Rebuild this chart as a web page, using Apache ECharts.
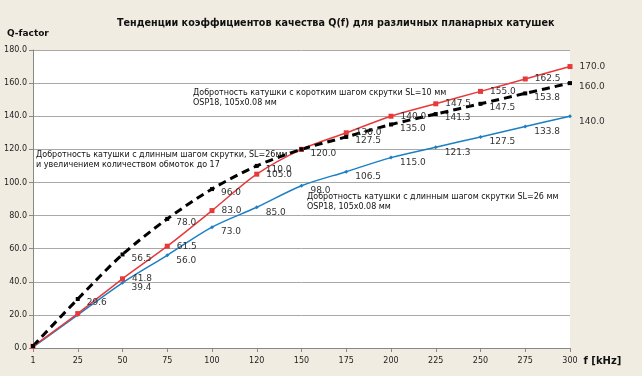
<!DOCTYPE html>
<html>
<head>
<meta charset="utf-8" />
<title>Q-factor</title>
<script src="https://cdn.jsdelivr.net/npm/echarts@6/dist/echarts.min.js"></script>
<style>
    *{margin:0;padding:0;}
    body{background:#f1ece1;}
    #main{width:642px;height:376px;}
</style>
</head>
<body>
<div id="main"></div>
<script>
    // частоты, кГц
    var freqs = ['1', '25', '50', '75', '100', '120', '150', '175', '200', '225', '250', '275', '300'];
    // короткий шаг SL=10
    var shortPitch = [1.0, 20.8, 41.8, 61.5, 83.0, 105.0, 120.0, 130.0, 140.0, 147.5, 155.0, 162.5, 170.0];
    // длинный шаг SL=26, 17 обмоток
    var longPitch17 = [1.2, 29.6, 56.5, 78.0, 96.0, 110.0, 120.0, 127.5, 135.0, 141.3, 147.5, 153.8, 160.0];
    // длинный шаг SL=26
    var longPitch = [0.5, 20.0, 39.4, 56.0, 73.0, 85.0, 98.0, 106.5, 115.0, 121.3, 127.5, 133.8, 140.0];
    var yTicks = [0, 20, 40, 60, 80, 100, 120, 140, 160, 180];

    var font = 'Verdana, "DejaVu Sans", sans-serif';

    // подписи: первые две точки без значений (кроме черной 25)
    function lbl(arr, skip) {
        return arr.map(function (v, i) {
            return {value: v, label: {show: skip.indexOf(i) < 0}};
        });
    }

    var myChart = echarts.init(document.getElementById('main'));

    var option = {
        backgroundColor: '#f1ece1',
        animation: false,
        title: {
            text: 'Тенденции коэффициентов качества Q(f) для различных планарных катушек',
            left: 112, top: 13,
            textStyle: {fontSize: 10.7, fontWeight: 'bold', color: '#111', fontFamily: '"DejaVu Sans Condensed", Tahoma, sans-serif'}
        },
        grid: {
            left: 33, right: 72, top: 50, bottom: 28,
            show: true, backgroundColor: '#ffffff', borderWidth: 0
        },
        xAxis: {
            type: 'category',
            data: freqs,
            boundaryGap: false,
            name: 'f [kHz]',
            nameLocation: 'end',
            nameGap: 12,
            nameTextStyle: {fontSize: 10, fontWeight: 'bold', color: '#111', fontFamily: font, verticalAlign: 'top', padding: [8, 0, 0, 0]},
            axisLine: {lineStyle: {color: '#888'}},
            axisTick: {alignWithLabel: true, lineStyle: {color: '#888'}, length: 4},
            axisLabel: {fontSize: 8, color: '#222', fontFamily: font, margin: 9}
        },
        yAxis: {
            type: 'value',
            min: yTicks[0],
            max: yTicks[yTicks.length - 1],
            interval: 20,
            name: 'Q-factor',
            nameLocation: 'end',
            nameGap: 12,
            nameTextStyle: {fontSize: 9, fontWeight: 'bold', color: '#111', fontFamily: font, align: 'left', padding: [0, 0, 0, -26]},
            axisLine: {show: true, lineStyle: {color: '#888'}},
            axisTick: {show: true, length: 4, lineStyle: {color: '#888'}},
            axisLabel: {fontSize: 8, color: '#222', fontFamily: font, margin: 6,
                formatter: function (v) { return v.toFixed(1); }},
            splitLine: {lineStyle: {color: '#a8a8a8', width: 1}}
        },
        textStyle: {fontFamily: font},
        series: [
            {
                name: 'SL=26',
                type: 'line',
                smooth: 0.3,
                data: lbl(longPitch, [0, 1]),
                symbol: 'diamond',
                symbolSize: 4,
                lineStyle: {color: '#1b7fc4', width: 1.5},
                itemStyle: {color: '#1b7fc4'},
                label: {show: true, position: 'right', offset: [2, 5], fontSize: 9, color: '#333',
                    formatter: function (p) { return p.value.toFixed(1); }}
            },
            {
                name: 'SL=10',
                type: 'line',
                smooth: 0.3,
                data: lbl(shortPitch, [0, 1, 6]),
                symbol: 'rect',
                symbolSize: 5,
                lineStyle: {color: '#e8393a', width: 1.5},
                itemStyle: {color: '#e8393a'},
                label: {show: true, position: 'right', offset: [2, 0], fontSize: 9, color: '#333',
                    formatter: function (p) { return p.value.toFixed(1); }}
            },
            {
                name: 'SL=26, 17',
                type: 'line',
                smooth: 0.3,
                data: lbl(longPitch17, [0]),
                symbol: 'rect',
                symbolSize: 4,
                lineStyle: {color: '#000', width: 3, type: [8, 5]},
                itemStyle: {color: '#000'},
                label: {show: true, position: 'right', offset: [2, 4], fontSize: 9, color: '#333',
                    formatter: function (p) { return p.value.toFixed(1); }}
            }
        ],
        graphic: [
            {type: 'text', left: 193, top: 88,
                style: {text: 'Добротность катушки с коротким шагом скрутки SL=10 мм\nOSP18, 105x0.08 мм',
                    fontSize: 8, fill: '#111', fontFamily: font, lineHeight: 10}},
            {type: 'text', left: 36, top: 150,
                style: {text: 'Добротность катушки с длинным шагом скрутки, SL=26мм\nи увеличением количеством обмоток до 17',
                    fontSize: 8, fill: '#111', fontFamily: font, lineHeight: 10}},
            {type: 'text', left: 307, top: 192,
                style: {text: 'Добротность катушки с длинным шагом скрутки SL=26 мм\nOSP18, 105x0.08 мм',
                    fontSize: 8, fill: '#111', fontFamily: font, lineHeight: 10}}
        ]
    };

    myChart.setOption(option);
</script>
</body>
</html>
